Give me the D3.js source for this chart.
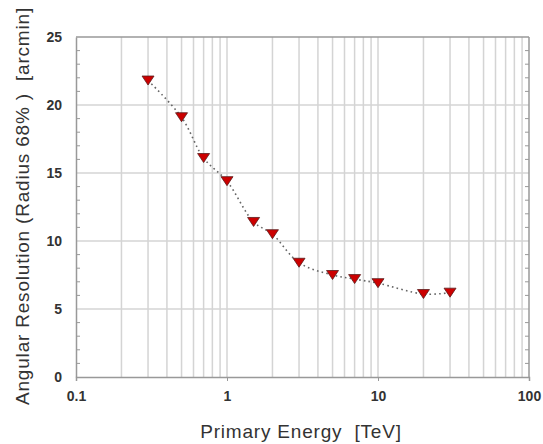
<!DOCTYPE html>
<html>
<head>
<meta charset="utf-8">
<script src="https://cdn.jsdelivr.net/npm/d3@7"></script>
<style>
  body { margin: 0; background: #ffffff; }
  text { font-family: "Liberation Sans", Arial, sans-serif; }
</style>
</head>
<body>
<svg id="chart"></svg>
<script>
const energies = [0.3, 0.5, 0.7, 1, 1.5, 2, 3, 5, 7, 10, 20, 30];
const resolution = [21.8, 19.1, 16.1, 14.4, 11.4, 10.5, 8.4, 7.5, 7.2, 6.9, 6.1, 6.2];
const xTickLabels = ["0.1", "1", "10", "100"];
const yTicks = [0, 5, 10, 15, 20, 25];

const width = 543, height = 444;
const margin = { t: 37, r: 14, b: 67, l: 76 };

const gridColor = "#d4d4d4";
const axisColor = "#999999";
const textColor = "#333333";

const svg = d3.select("#chart").attr("width", width).attr("height", height);

const x = d3.scaleLog().domain([0.1, 100]).range([margin.l, width - margin.r]);
const y = d3.scaleLinear().domain([0, 25]).range([height - margin.b, margin.t]);

// minor decade values for vertical grid
const minorX = [];
[0.1, 1, 10].forEach(dec => {
    for (let k = 2; k <= 9; k++) minorX.push(dec * k);
});
const majorX = [0.1, 1, 10, 100];

// vertical grid
svg.append("g").selectAll("line")
    .data(minorX.concat(majorX.slice(1, 3)))
    .join("line")
    .attr("x1", d => x(d)).attr("x2", d => x(d))
    .attr("y1", y(0)).attr("y2", y(25))
    .attr("stroke", gridColor)
    .attr("stroke-width", 1.5);

// horizontal grid
svg.append("g").selectAll("line")
    .data(yTicks.slice(1))
    .join("line")
    .attr("x1", x(0.1)).attr("x2", x(100))
    .attr("y1", d => y(d)).attr("y2", d => y(d))
    .attr("stroke", d => d === 25 ? axisColor : gridColor)
    .attr("stroke-width", 1.5);

// left axis
const yAxis = d3.axisLeft(y).tickValues(yTicks).tickSize(0).tickPadding(14).tickFormat(d3.format("d"));
const gy = svg.append("g").attr("transform", `translate(${margin.l},0)`).call(yAxis);
gy.select(".domain").attr("stroke", axisColor).attr("stroke-width", 1.5);
gy.selectAll("text").attr("font-size", 14).attr("font-weight", "bold").attr("fill", textColor);

// minor y ticks (inward), both sides
const yMinor = d3.range(0, 26).filter(v => v % 5 !== 0);
svg.append("g").selectAll("line")
    .data(yMinor)
    .join("line")
    .attr("x1", x(0.1)).attr("x2", x(0.1) + 4)
    .attr("y1", d => y(d)).attr("y2", d => y(d))
    .attr("stroke", axisColor);
svg.append("g").selectAll("line")
    .data(yMinor)
    .join("line")
    .attr("x1", x(100)).attr("x2", x(100) - 4)
    .attr("y1", d => y(d)).attr("y2", d => y(d))
    .attr("stroke", axisColor);

// right axis line
svg.append("line")
    .attr("x1", x(100)).attr("x2", x(100))
    .attr("y1", y(0)).attr("y2", y(25))
    .attr("stroke", axisColor).attr("stroke-width", 1.5);

// bottom axis
const xAxis = d3.axisBottom(x).tickValues(majorX).tickSize(4).tickPadding(10)
    .tickFormat((d, i) => xTickLabels[i]);
const gx = svg.append("g").attr("transform", `translate(0,${y(0)})`).call(xAxis);
gx.select(".domain").attr("stroke", axisColor).attr("stroke-width", 1.5);
gx.selectAll(".tick line").attr("stroke", axisColor);
gx.selectAll("text").attr("font-size", 14).attr("font-weight", "bold").attr("fill", textColor);

// dotted curve
const pts = energies.map((e, i) => [x(e), y(resolution[i])]);
svg.append("path")
    .datum(pts)
    .attr("d", d3.line().curve(d3.curveCatmullRom.alpha(0.5)))
    .attr("fill", "none")
    .attr("stroke", "#666666")
    .attr("stroke-width", 1.6)
    .attr("stroke-dasharray", "1.6,3.2");

// triangle markers
const tri = d => {
    const w = 6, h = 9;
    return `M${-w},${-h / 2}L${w},${-h / 2}L0,${h / 2}Z`;
};
svg.append("g").selectAll("path")
    .data(pts)
    .join("path")
    .attr("transform", d => `translate(${d[0]},${d[1]})`)
    .attr("d", tri)
    .attr("fill", "#cc0000")
    .attr("stroke", "#5a1a1a")
    .attr("stroke-width", 0.8);

// axis titles
svg.append("text")
    .attr("x", 301)
    .attr("y", 438)
    .attr("text-anchor", "middle")
    .attr("font-size", 19)
    .attr("letter-spacing", 0.8)
    .attr("fill", textColor)
    .attr("xml:space", "preserve")
    .text("Primary Energy  [TeV]");

svg.append("text")
    .attr("transform", `translate(29,206) rotate(-90)`)
    .attr("text-anchor", "middle")
    .attr("font-size", 19)
    .attr("letter-spacing", 0.8)
    .attr("fill", textColor)
    .attr("xml:space", "preserve")
    .text("Angular Resolution (Radius 68% )  [arcmin]");
</script>
</body>
</html>
